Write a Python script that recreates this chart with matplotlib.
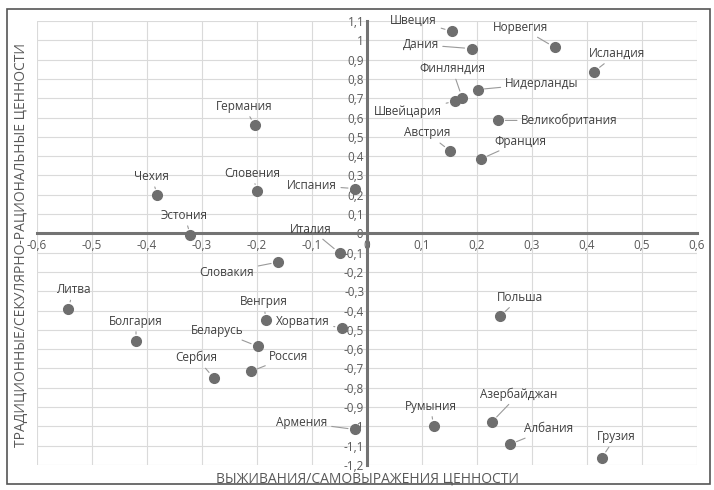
import numpy as np
import matplotlib
matplotlib.use('Agg')
import matplotlib.pyplot as plt
from matplotlib.ticker import FuncFormatter, MultipleLocator
from matplotlib.patches import Rectangle

plt.rcParams['font.family'] = ['Open Sans', 'DejaVu Sans']

# country values
countries = ['Швеция', 'Дания', 'Норвегия', 'Исландия', 'Финляндия', 'Нидерланды',
             'Швейцария', 'Великобритания', 'Австрия', 'Франция', 'Германия', 'Чехия',
             'Словения', 'Испания', 'Эстония', 'Италия', 'Словакия', 'Литва',
             'Болгария', 'Венгрия', 'Хорватия', 'Беларусь', 'Россия', 'Сербия',
             'Армения', 'Польша', 'Румыния', 'Азербайджан', 'Албания', 'Грузия']
survival = [0.154, 0.19, 0.341, 0.413, 0.173, 0.201,
            0.16, 0.239, 0.151, 0.207, -0.204, -0.381,
            -0.2, -0.022, -0.321, -0.05, -0.162, -0.543,
            -0.42, -0.184, -0.046, -0.199, -0.211, -0.279,
            -0.022, 0.242, 0.121, 0.227, 0.26, 0.427]
traditional = [1.047, 0.957, 0.964, 0.838, 0.703, 0.745,
               0.684, 0.585, 0.427, 0.385, 0.56, 0.197,
               0.219, 0.232, -0.01, -0.102, -0.149, -0.39,
               -0.558, -0.451, -0.489, -0.585, -0.715, -0.748,
               -1.016, -0.43, -0.998, -0.977, -1.093, -1.162]

# label offsets in pixels (dx, dy)
offsets = [(-38, 11), (-51, 4), (-34, 20), (23, 18), (-10, 29), (64, 6),
           (-47, -10), (71, 0), (-23, 18), (40, 18), (-11, 19), (-6, 19),
           (-5, 18), (-43, 3), (-6, 20), (-29, 24), (-51, -10), (5, 19),
           (0, 20), (-2, 19), (-39, 6), (-40, 16), (38, 15), (-17, 20),
           (-53, 7), (20, 19), (-3, 20), (27, 28), (39, 16), (14, 21)]

txt = '#404040'
axc = '#737373'
dotc = '#6e6e6e'

fig = plt.figure(figsize=(7.14, 4.9), dpi=100)
ax = fig.add_axes([37 / 714, 1 - 465 / 490, 660 / 714, 444 / 490])
ax.set_xlim(-0.6, 0.6)
ax.set_ylim(-1.2, 1.1)
ax.xaxis.set_major_locator(MultipleLocator(0.1))
ax.yaxis.set_major_locator(MultipleLocator(0.1))
ax.grid(True, color='#dadada', lw=0.8)
ax.set_axisbelow(True)

for s in ['top', 'right']:
    ax.spines[s].set_visible(False)
ax.spines['left'].set_position('zero')
ax.spines['bottom'].set_position('zero')
for s in ['left', 'bottom']:
    ax.spines[s].set_color(axc)
    ax.spines[s].set_linewidth(2.2)
    ax.spines[s].set_zorder(2)

fmt = FuncFormatter(lambda v, p: ('%g' % round(v, 2)).replace('.', ','))
ax.xaxis.set_major_formatter(fmt)
ax.yaxis.set_major_formatter(fmt)
ax.tick_params(length=0, labelsize=8.5, labelcolor='#595959', pad=4)
ax.tick_params(axis='y', pad=2)

ax.plot(survival, traditional, 'o', color=dotc, ms=7, zorder=4, clip_on=False)
for name, x, y, off in zip(countries, survival, traditional, offsets):
    ax.annotate(name, (x, y), xytext=off, textcoords='offset pixels',
                ha='center', va='center', fontsize=8.5, color=txt, zorder=5,
                arrowprops=dict(arrowstyle='-', color='#9a9a9a', lw=0.8,
                                shrinkA=1, shrinkB=5))

fig.text(22 / 714, 1 - 245 / 490, 'ТРАДИЦИОННЫЕ/СЕКУЛЯРНО-РАЦИОНАЛЬНЫЕ ЦЕННОСТИ',
         rotation=90, ha='center', va='center', fontsize=10, color='#595959')
fig.text(368 / 714, 1 - 479 / 490, 'ВЫЖИВАНИЯ/САМОВЫРАЖЕНИЯ ЦЕННОСТИ',
         ha='center', va='center', fontsize=10, color='#595959')

fig.patches.append(Rectangle((7 / 714, 6 / 490), 703 / 714, 475 / 490,
                             transform=fig.transFigure, fill=False,
                             edgecolor='#555555', lw=1.2))

fig.savefig('out.png', dpi=100)
